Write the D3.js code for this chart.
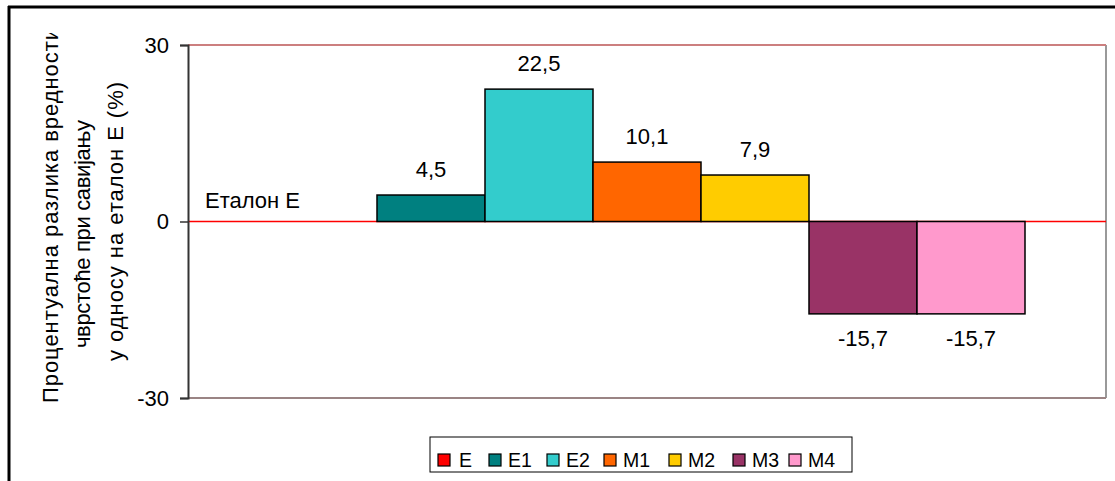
<!DOCTYPE html>
<html><head><meta charset="utf-8">
<script src="https://cdn.jsdelivr.net/npm/d3@7"></script>
<style>body{margin:0;background:#fff}svg{display:block;font-family:"Liberation Sans",Arial,sans-serif}</style>
</head><body>
<svg id="c" width="1115" height="481"></svg>
<script>
const series = ["E","E1","E2","M1","M2","M3","M4"];
const values = [0,4.5,22.5,10.1,7.9,-15.7,-15.7];
const labels = ["Еталон Е","4,5","22,5","10,1","7,9","-15,7","-15,7"];
const colors = ["#ff0000","#008080","#33cccc","#ff6600","#ffcc00","#993366","#ff99cc"];
const yTicks = [-30,0,30];
const yTitle = ["Процентуална разлика вредности","чврстоће при савијању","у односу на еталон Е (%)"];

const svg = d3.select("#c");
const L=188,R=1106,T=45,B=398;
const y = d3.scaleLinear().domain([-30,30]).range([B,T]);
const x = d3.scaleBand().domain(series).range([L,R]).paddingInner(0).paddingOuter(0.75);

// outer frame
svg.append("line").attr("x1",8).attr("x2",1115).attr("y1",7).attr("y2",7).attr("stroke","#000").attr("stroke-width",3);
svg.append("line").attr("x1",9).attr("x2",9).attr("y1",6).attr("y2",481).attr("stroke","#000").attr("stroke-width",3);

// plot border
svg.append("line").attr("x1",R).attr("x2",R).attr("y1",T).attr("y2",B).attr("stroke","#999").attr("stroke-width",2);
svg.append("line").attr("x1",L).attr("x2",R).attr("y1",y(30)).attr("y2",y(30)).attr("stroke","#cc7f7f").attr("stroke-width",2);
svg.append("line").attr("x1",L).attr("x2",R).attr("y1",y(-30)).attr("y2",y(-30)).attr("stroke","#9a8484").attr("stroke-width",2);
// zero line
svg.append("line").attr("x1",L).attr("x2",R).attr("y1",y(0)).attr("y2",y(0)).attr("stroke","#ff0000").attr("stroke-width",1.5);

// bars
svg.selectAll("rect.bar").data(series.map((s,i)=>({s,v:values[i],c:colors[i]})).filter(d=>d.v!==0))
 .enter().append("rect").attr("class","bar")
 .attr("x",d=>x(d.s)).attr("width",x.bandwidth())
 .attr("y",d=>y(Math.max(0,d.v))).attr("height",d=>Math.abs(y(d.v)-y(0)))
 .attr("fill",d=>d.c).attr("stroke","#000").attr("stroke-width",1.5);

// data labels
series.forEach((s,i)=>{
  const v=values[i];
  if(v===0){
    svg.append("text").attr("x",205).attr("y",y(0)-14).attr("font-size",22).text(labels[i]);
  } else {
    svg.append("text").attr("x",x(s)+x.bandwidth()/2).attr("y",v>0?y(v)-18:y(v)+32)
      .attr("text-anchor","middle").attr("font-size",22).text(labels[i]);
  }
});

// y axis
const ax = svg.append("g").attr("transform",`translate(${L},0)`)
  .call(d3.axisLeft(y).tickValues(yTicks).tickSize(8).tickPadding(11).tickFormat(d3.format("d")));
ax.select(".domain").attr("stroke","#333").attr("stroke-width",2);
ax.selectAll(".tick line").attr("stroke","#333").attr("stroke-width",1.5);
ax.selectAll(".tick text").attr("font-size",22).attr("font-family","Liberation Sans, Arial, sans-serif").attr("fill","#000").text(d=>d<0?"-"+Math.abs(d):d);

// y title
svg.append("clipPath").attr("id","tc").append("rect").attr("x",0).attr("y",33).attr("width",180).attr("height",448);
const tg = svg.append("g").attr("clip-path","url(#tc)");
const tpos = [[50,403,375],[82,348,228],[115,361,279]];
yTitle.forEach((t,i)=>{
  tg.append("text").attr("transform",`translate(${tpos[i][0]},${tpos[i][1]}) rotate(-90)`)
    .attr("dy","0.35em").attr("font-size",22).attr("textLength",tpos[i][2]).attr("lengthAdjust","spacing").text(t);
});

// legend
svg.append("rect").attr("x",430).attr("y",437).attr("width",422).attr("height",35).attr("fill","#fff").attr("stroke","#000").attr("stroke-width",1);
const lx = [438,489,547,604,669,733,789];
series.forEach((s,i)=>{
  svg.append("rect").attr("x",lx[i]).attr("y",454).attr("width",12).attr("height",12).attr("fill",colors[i]).attr("stroke","#000").attr("stroke-width",1.2);
  svg.append("text").attr("x",lx[i]+(i===0?21:19)).attr("y",467).attr("font-size",19.5).text(s);
});
</script>
</body></html>
